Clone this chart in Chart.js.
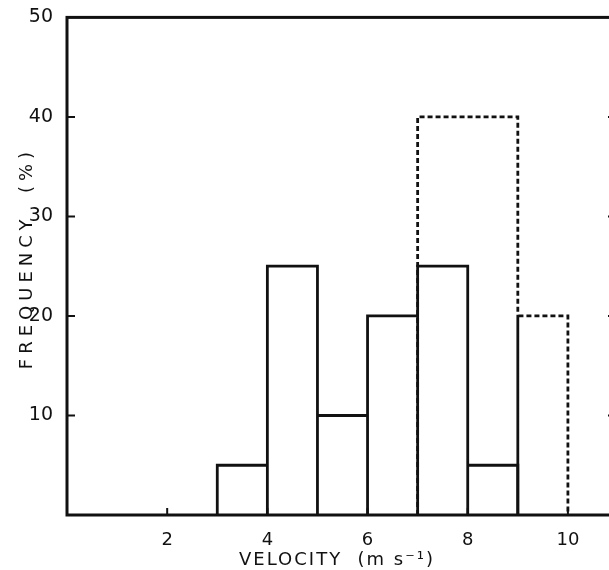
<!DOCTYPE html>
<html>
<head>
<meta charset="utf-8">
<style>
  html, body { margin: 0; padding: 0; background: #fff; overflow: hidden; }
  #wrap { width: 622px; height: 570px; }
</style>
<script src="https://cdn.jsdelivr.net/npm/chart.js@4.4.1/dist/chart.umd.min.js"></script>
</head>
<body>
<div id="wrap"><canvas id="velChart"></canvas></div>
<script>
// histogram bins (m s-1) and frequency (%)
const solidEdges = [3, 4, 5, 6, 7, 8, 9];
const solidFreq = [5, 25, 10, 20, 25, 5];
const dashedEdges = [7, 9, 10];
const dashedFreq = [40, 20];

const xTickValues = [2, 4, 6, 8, 10];
const yTickValues = [10, 20, 30, 40, 50];

const xTitle = 'VELOCITY  (m s\u207B\u00B9)';
const yTitle = 'FREQUENCY  (%)';

// outline of each bar: up, across, down
function outline(edges, freq) {
    const pts = [];
    for (let i = 0; i < freq.length; i++) {
        pts.push({ x: edges[i], y: 0 });
        pts.push({ x: edges[i], y: freq[i] });
        pts.push({ x: edges[i + 1], y: freq[i] });
        pts.push({ x: edges[i + 1], y: 0 });
    }
    return pts;
}

const INK = '#111';
const FONT = '"DejaVu Sans", sans-serif';

// frame, inward ticks and axis titles
const framePlugin = {
    id: 'frame',
    afterDraw(chart) {
        const { ctx, chartArea: a, scales } = chart;
        ctx.save();
        ctx.strokeStyle = INK;
        ctx.lineWidth = 3;
        ctx.strokeRect(a.left, a.top, a.right - a.left, a.bottom - a.top);

        ctx.lineWidth = 2;
        ctx.beginPath();
        yTickValues.slice(0, 4).forEach(v => {
            const y = scales.y.getPixelForValue(v);
            ctx.moveTo(a.left, y);
            ctx.lineTo(a.left + 8, y);
            ctx.moveTo(a.right - 10, y);
            ctx.lineTo(a.right, y);
        });
        xTickValues.forEach(v => {
            const x = scales.x.getPixelForValue(v);
            ctx.moveTo(x, a.bottom);
            ctx.lineTo(x, a.bottom - 7);
        });
        ctx.stroke();

        ctx.fillStyle = INK;
        ctx.font = '18px ' + FONT;
        ctx.letterSpacing = '2px';
        ctx.textAlign = 'center';
        ctx.textBaseline = 'middle';
        ctx.fillText(xTitle, 337, 560);
        ctx.translate(27, 258);
        ctx.rotate(-Math.PI / 2);
        ctx.letterSpacing = '5px';
        ctx.fillText(yTitle, 0, 0);
        ctx.restore();
    }
};

const ctx = document.getElementById('velChart').getContext('2d');
new Chart(ctx, {
    type: 'line',
    data: {
        datasets: [
            {
                data: outline(solidEdges, solidFreq),
                borderColor: INK,
                borderWidth: 2.8,
                pointRadius: 0,
                fill: false,
                order: 1
            },
            {
                data: outline(dashedEdges, dashedFreq),
                borderColor: INK,
                borderWidth: 2.8,
                borderDash: [5, 3],
                pointRadius: 0,
                fill: false,
                order: 2
            }
        ]
    },
    options: {
        responsive: true,
        maintainAspectRatio: false,
        animation: false,
        layout: { padding: { top: 11, right: 4, left: 0, bottom: 0 } },
        plugins: {
            legend: { display: false },
            tooltip: { enabled: false }
        },
        scales: {
            x: {
                type: 'linear',
                min: 0,
                max: 11,
                afterBuildTicks: s => { s.ticks = xTickValues.map(v => ({ value: v })); },
                afterFit: s => { s.height = 55; },
                grid: { display: false },
                border: { display: false },
                ticks: {
                    color: INK,
                    padding: 7,
                    maxRotation: 0,
                    font: { family: FONT, size: 18 }
                }
            },
            y: {
                min: 0,
                max: 50,
                afterBuildTicks: s => { s.ticks = yTickValues.map(v => ({ value: v })); },
                afterFit: s => { s.width = 67; },
                grid: { display: false },
                border: { display: false },
                ticks: {
                    color: INK,
                    padding: 6,
                    font: { family: FONT, size: 19 }
                }
            }
        }
    },
    plugins: [framePlugin]
});
</script>
</body>
</html>
